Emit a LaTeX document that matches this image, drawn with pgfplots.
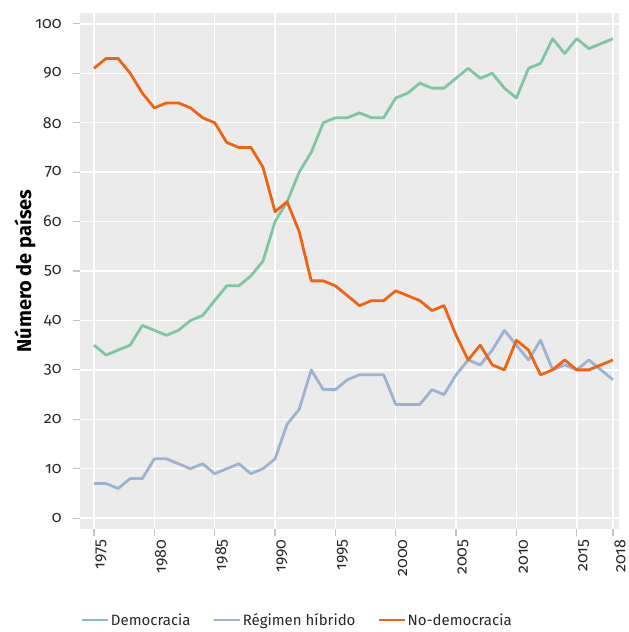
\documentclass[border=0pt]{standalone}
\usepackage{pgfplots}
\pgfplotsset{compat=1.18}
\usepackage{fontspec}
\setmainfont{Fira Sans}[Numbers=OldStyle]
\definecolor{bgc}{RGB}{235,235,235}
\definecolor{gdem}{RGB}{128,198,162}
\definecolor{bhyb}{RGB}{158,178,210}
\definecolor{onod}{RGB}{236,100,22}
\definecolor{tickc}{RGB}{195,195,195}
\definecolor{txt}{RGB}{40,40,40}
\begin{document}
\begin{tikzpicture}
\begin{axis}[
  scale only axis,
  width=539pt, height=516pt,
  xmin=1973.84, xmax=2018.5,
  ymin=-2.2, ymax=102.2,
  axis background/.style={fill=bgc},
  axis line style={draw=none},
  grid=major,
  major grid style={white, line width=1.5pt},
  xtick={1975,1980,1985,1990,1995,2000,2005,2010,2015,2018},
  ytick={0,10,...,100},
  xticklabel style={rotate=90, anchor=east, yshift=-7pt, font=\fontsize{16}{18}\selectfont, text=txt},
  yticklabel style={xshift=-8pt, font=\fontsize{16}{18}\selectfont, text=txt},
  /pgf/number format/assume math mode=true,
  /pgf/number format/1000 sep={},
  tick align=outside,
  major tick length=7pt,
  tick style={draw=tickc, line width=1.2pt},
  xtick pos=bottom, ytick pos=left,
  ylabel={\bfseries Número de países},
  ylabel style={at={(axis description cs:0,0.5)}, anchor=center, rotate=0, yshift=55pt,
     font=\fontsize{20}{22}\selectfont, text=black},
  legend columns=3,
  legend style={draw=none, fill=none, at={(axis description cs:0.403,-0.155)}, anchor=north,
     font=\fontsize{15}{17}\selectfont, text=txt,
     /tikz/every even column/.append style={column sep=20pt}},
  legend image code/.code={\draw[#1, line width=2.2pt] (0pt,0pt) -- (26pt,0pt);},
  clip=false,
]
\addplot[gdem, line width=2.8pt, line join=round] coordinates {
(1975,35)(1976,33)(1977,34)(1978,35)(1979,39)(1980,38)(1981,37)(1982,38)(1983,40)(1984,41)
(1985,44)(1986,47)(1987,47)(1988,49)(1989,52)(1990,60)(1991,64)(1992,70)(1993,74)(1994,80)
(1995,81)(1996,81)(1997,82)(1998,81)(1999,81)(2000,85)(2001,86)(2002,88)(2003,87)(2004,87)
(2005,89)(2006,91)(2007,89)(2008,90)(2009,87)(2010,85)(2011,91)(2012,92)(2013,97)(2014,94)
(2015,97)(2016,95)(2017,96)(2018,97)};
\addlegendentry{Democracia}
\addplot[bhyb, line width=2.8pt, line join=round] coordinates {
(1975,7)(1976,7)(1977,6)(1978,8)(1979,8)(1980,12)(1981,12)(1982,11)(1983,10)(1984,11)
(1985,9)(1986,10)(1987,11)(1988,9)(1989,10)(1990,12)(1991,19)(1992,22)(1993,30)(1994,26)
(1995,26)(1996,28)(1997,29)(1998,29)(1999,29)(2000,23)(2001,23)(2002,23)(2003,26)(2004,25)
(2005,29)(2006,32)(2007,31)(2008,34)(2009,38)(2010,35)(2011,32)(2012,36)(2013,30)(2014,31)
(2015,30)(2016,32)(2017,30)(2018,28)};
\addlegendentry{Régimen híbrido}
\addplot[onod, line width=2.8pt, line join=round] coordinates {
(1975,91)(1976,93)(1977,93)(1978,90)(1979,86)(1980,83)(1981,84)(1982,84)(1983,83)(1984,81)
(1985,80)(1986,76)(1987,75)(1988,75)(1989,71)(1990,62)(1991,64)(1992,58)(1993,48)(1994,48)
(1995,47)(1996,45)(1997,43)(1998,44)(1999,44)(2000,46)(2001,45)(2002,44)(2003,42)(2004,43)
(2005,37)(2006,32)(2007,35)(2008,31)(2009,30)(2010,36)(2011,34)(2012,29)(2013,30)(2014,32)
(2015,30)(2016,30)(2017,31)(2018,32)};
\addlegendentry{No-democracia}
\end{axis}
\path ([xshift=-80pt,yshift=13pt]current axis.north west) rectangle ([yshift=-103pt]current axis.south east);
\end{tikzpicture}
\end{document}
